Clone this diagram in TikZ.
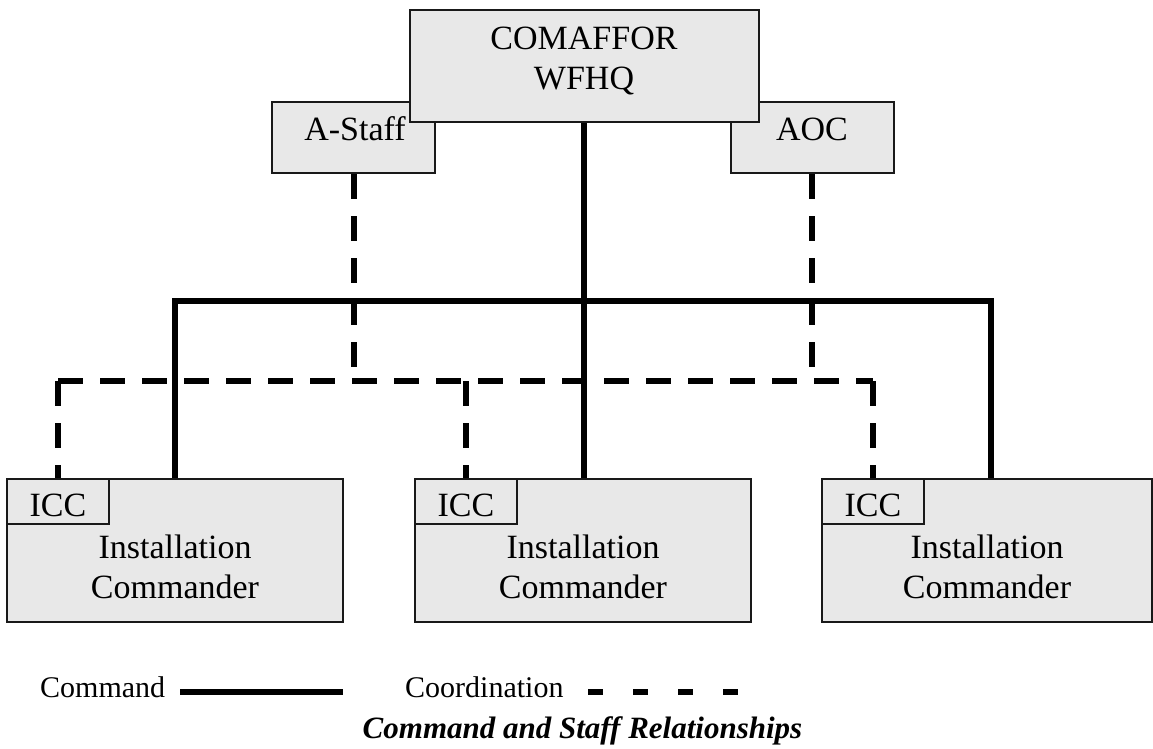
\documentclass[tikz,border=0pt]{standalone}
\usepackage{fontspec}
\setmainfont{Liberation Serif}
\usepackage{xcolor}
\usepackage{tikz}
\usetikzlibrary{positioning,calc}

\definecolor{unitfill}{RGB}{232,232,232}
\definecolor{unitedge}{RGB}{25,25,25}

\tikzset{
	unit/.style={draw=unitedge, line width=2pt, fill=unitfill, inner sep=0pt},
	unittext/.style={font=\fontsize{34}{40}\selectfont, align=center, inner sep=0pt},
	keytext/.style={font=\fontsize{30}{36}\selectfont, inner sep=0pt, anchor=base west},
	cmdline/.style={line width=6pt},
	crdline/.style={line width=6pt, dash pattern=on 25pt off 17pt}
}

\begin{document}
\begin{tikzpicture}[x=1pt,y=-1pt]
					\def\instW{336}
					\def\instH{143}
					\def\iccW{102}
					\def\iccH{45}
					
					\useasboundingbox (0,0) rectangle (1153,748);
					
					% staff boxes, HQ box lies over them
					\node[unit, minimum width=163, minimum height=71] (astaff) at (353.5,137.5) {};
					\node[unittext, anchor=base] (astafftxt) at (355,140) {A-Staff};
					\node[unit, minimum width=163, minimum height=71] (aoc) at (812,137.5) {};
					\node[unittext, anchor=base] (aoctxt) at (812,140) {AOC};
					
					\node[unit, minimum width=349, minimum height=112] (hq) at (584,66) {};
					\node[unittext] (hqtxt) at (584,60.5) {COMAFFOR\\WFHQ};
					
					% installation boxes with the ICC tab
					\node[unit, minimum width=\instW, minimum height=\instH] (inst1) at (175,550.5) {};
					\node[unit, minimum width=\instW, minimum height=\instH] (inst2) at (583,550.5) {};
					\node[unit, minimum width=330, minimum height=\instH] (inst3) at (987,550.5) {};
					
					\node[unit, minimum width=\iccW, minimum height=\iccH, anchor=north west] (icc1) at (inst1.north west) {};
					\node[unit, minimum width=\iccW, minimum height=\iccH, anchor=north west] (icc2) at (inst2.north west) {};
					\node[unit, minimum width=\iccW, minimum height=\iccH, anchor=north west] (icc3) at (inst3.north west) {};
					
					\node[unittext, anchor=base] (icc1txt) at ($(icc1.north)+(0,38)$) {ICC};
					\node[unittext, anchor=base] (icc2txt) at ($(icc2.north)+(0,38)$) {ICC};
					\node[unittext, anchor=base] (icc3txt) at ($(icc3.north)+(0,38)$) {ICC};
					
					\node[unittext] (cmdr1) at (175,566.5) {Installation\\Commander};
					\node[unittext] (cmdr2) at (583,566.5) {Installation\\Commander};
					\node[unittext] (cmdr3) at (987,566.5) {Installation\\Commander};
					
					% command lines
					\coordinate (bus) at (0,301);
					\draw[cmdline] (hq.south) -- (hq.south |- inst2.north);
					\draw[cmdline] (inst1.north) -- (inst1.north |- bus) -- ([xshift=4]inst3.north |- bus) -- ([xshift=4]inst3.north);
					
					% coordination lines
					\coordinate (crd) at (0,381);
					\draw[crdline] (astaff.south) -- (astaff.south |- crd);
					\draw[crdline] (aoc.south) -- (aoc.south |- crd);
					\draw[crdline] (icc1.north |- crd) -- (icc3.north |- crd);
					\draw[crdline] (icc1.north |- crd) -- (icc1.north);
					\draw[crdline] (icc2.north |- crd) -- (icc2.north);
					\draw[crdline] (icc3.north |- crd) -- (icc3.north);
					
					% key
					\node[keytext] (cmdkey) at (40,697) {Command};
					\coordinate (cmdA) at (180,692);
					\coordinate (cmdB) at (343,692);
					\draw[cmdline] (cmdA) -- (cmdB);
					\node[keytext] (crdkey) at (405,697) {Coordination};
					\coordinate (crdA) at (588,692);
					\coordinate (crdB) at (738,692);
					\draw[line width=6pt, dash pattern=on 15pt off 30pt] (crdA) -- (crdB);
					
					\node[font=\fontsize{31}{37}\selectfont\bfseries\itshape, inner sep=0pt, anchor=base] (title) at (582.5,738) {Command and Staff Relationships};
				\end{tikzpicture}
\end{document}
